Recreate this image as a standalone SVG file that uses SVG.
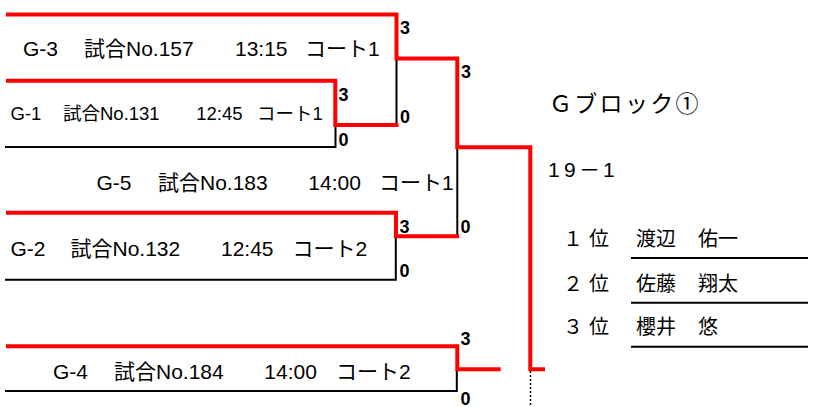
<svg xmlns="http://www.w3.org/2000/svg" width="820" height="407" viewBox="0 0 820 407">
<style>
.r{fill:none;stroke:#ff0000;stroke-width:4;stroke-linejoin:miter;stroke-linecap:butt}
.k{fill:none;stroke:#000;stroke-width:2}
.d{fill:none;stroke:#000;stroke-width:1.5;stroke-dasharray:2 2}
.t{font-family:"Liberation Sans","Noto Sans CJK JP",sans-serif;font-size:21px;fill:#000}
.sm{font-size:18.5px}
.s{font-family:"Liberation Sans",Arial,sans-serif;font-weight:bold;font-size:18px;fill:#000}
.j{font-family:"Noto Sans CJK JP","Liberation Sans",sans-serif;font-size:20px;fill:#000}
.n{font-family:"Liberation Sans","Noto Sans CJK JP",sans-serif;font-size:21px;fill:#000}
</style>
<rect width="820" height="407" fill="#fff"/>
<g id="connectors">
  <path class="k" d="M396.5,58.5 V125"/>
  <path class="k" d="M5,147 H335.5 V125"/>
  <path class="k" d="M457.3,147 V236.3"/>
  <path class="k" d="M5,279.7 H395.8 V236"/>
  <path class="k" d="M5,391 H456.8 V369"/>
  <path class="d" d="M530.5,371 V407"/>
  <path class="r" d="M6,14.5 H396.5 V58.5 H457.3 V147.3 H530.3 V369.3 H545"/>
  <path class="r" d="M6,80.7 H335.3 V125 H398.5"/>
  <path class="r" d="M6,212.7 H396 V236.3 H459"/>
  <path class="r" d="M6,346.3 H457.3 V369.3 H500.7"/>
</g>
<g id="scores">
  <text class="s" x="400" y="33.5">3</text>
  <text class="s" x="461" y="78">3</text>
  <text class="s" x="338.5" y="100.5">3</text>
  <text class="s" x="338.5" y="145.5">0</text>
  <text class="s" x="400" y="123">0</text>
  <text class="s" x="399.5" y="232.5">3</text>
  <text class="s" x="460.5" y="232.5">0</text>
  <text class="s" x="399.5" y="277">0</text>
  <text class="s" x="460.5" y="344.5">3</text>
  <text class="s" x="460.5" y="404.5">0</text>
</g>
<g id="match-g3">
  <text class="t" y="56"><tspan x="23">G-3</tspan><tspan x="84">試合No.157</tspan><tspan x="235">13:15</tspan><tspan x="305">コート1</tspan></text>
</g>
<g id="match-g1">
  <text class="t sm" y="120"><tspan x="10.5">G-1</tspan><tspan x="63">試合No.131</tspan><tspan x="196.3">12:45</tspan><tspan x="257">コート1</tspan></text>
</g>
<g id="match-g5">
  <text class="t" y="189.5"><tspan x="96.5">G-5</tspan><tspan x="158">試合No.183</tspan><tspan x="308.3">14:00</tspan><tspan x="379">コート1</tspan></text>
</g>
<g id="match-g2">
  <text class="t" y="256"><tspan x="10.5">G-2</tspan><tspan x="70.5">試合No.132</tspan><tspan x="221">12:45</tspan><tspan x="292.5">コート2</tspan></text>
</g>
<g id="match-g4">
  <text class="t" y="378.5"><tspan x="53">G-4</tspan><tspan x="114">試合No.184</tspan><tspan x="264.3">14:00</tspan><tspan x="336">コート2</tspan></text>
</g>
<g id="block-title">
  <text class="j" x="549" y="111.5" style="font-size:23px;letter-spacing:2.3px">Ｇブロック①</text>
</g>
<g id="record">
  <text class="n" y="176.5"><tspan x="548">1</tspan><tspan x="564">9</tspan><tspan x="579" style="font-family:'Noto Sans CJK JP',sans-serif">－</tspan><tspan x="603">1</tspan></text>
</g>
<g id="ranking">
  <text class="j" y="246"><tspan x="563">１</tspan><tspan x="589">位</tspan><tspan x="636">渡辺</tspan><tspan x="698">佑一</tspan></text>
  <text class="j" y="291"><tspan x="563">２</tspan><tspan x="589">位</tspan><tspan x="636">佐藤</tspan><tspan x="698">翔太</tspan></text>
  <text class="j" y="334"><tspan x="563">３</tspan><tspan x="589">位</tspan><tspan x="636">櫻井</tspan><tspan x="698">悠</tspan></text>
  <path class="k" d="M631,258 H808 M631,302.7 H808 M631,346.7 H808"/>
</g>
</svg>
